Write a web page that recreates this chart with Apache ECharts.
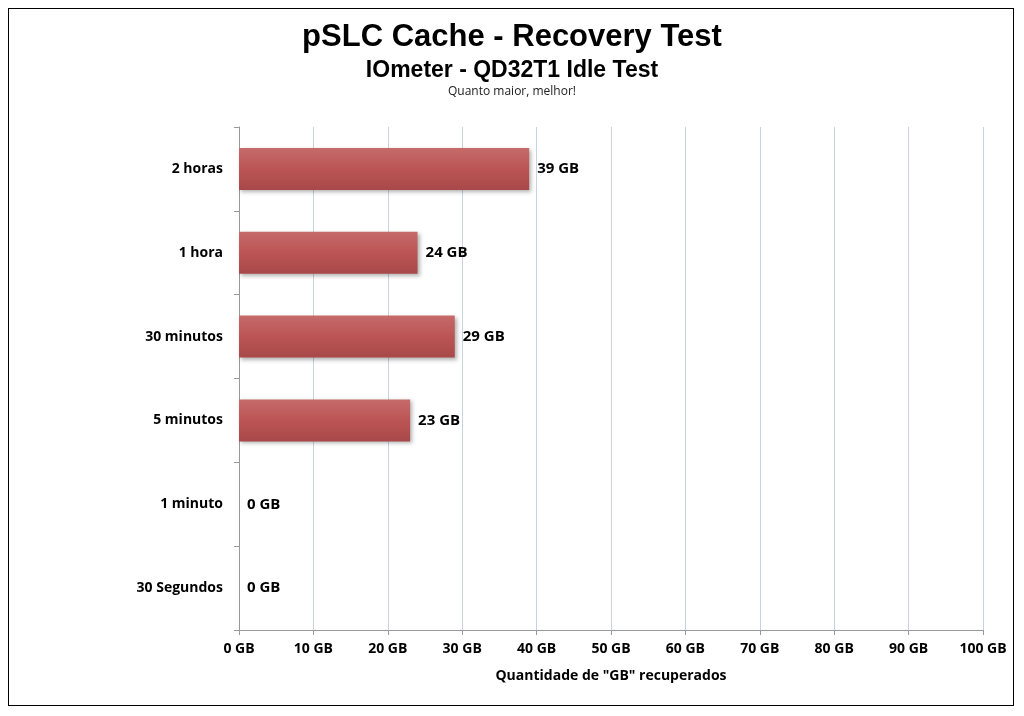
<!DOCTYPE html>
<html><head><meta charset="utf-8">
<script src="https://cdn.jsdelivr.net/npm/echarts@6/dist/echarts.min.js"></script>
<style>html,body{margin:0;padding:0;background:#fff}#c{width:1024px;height:716px}
#f{position:absolute;left:8px;top:8px;width:1006px;height:698px;border:1.5px solid #000;box-sizing:border-box;pointer-events:none}</style>
</head><body><div id="c"></div><div id="f"></div>
<script>
const categories = ['2 horas','1 hora','30 minutos','5 minutos','1 minuto','30 Segundos'];
const values = [39,24,29,23,0,0];
const xTicks = [0,10,20,30,40,50,60,70,80,90,100];
const ch = echarts.init(document.getElementById('c'));
ch.setOption({
  animation:false,
  title:[
    {text:'pSLC Cache - Recovery Test',left:'center',top:17,textStyle:{fontFamily:'Liberation Sans',fontSize:31,fontWeight:'bold',color:'#000'}},
    {text:'IOmeter - QD32T1 Idle Test',left:'center',top:54,textStyle:{fontFamily:'Liberation Sans',fontSize:23,fontWeight:'bold',color:'#000'}},
    {text:'Quanto maior, melhor!',left:'center',top:81,textStyle:{fontFamily:'Open Sans',fontSize:12,fontWeight:'normal',color:'#222'}}
  ],
  grid:{left:239,right:41,top:127,bottom:86},
  xAxis:{type:'value',min:0,max:100,interval:10,
    name:'Quantidade de "GB" recuperados',nameLocation:'middle',nameGap:39,
    nameTextStyle:{fontFamily:'Open Sans',fontSize:14,fontWeight:'bold',color:'#000'},
    axisLabel:{formatter:v=>v+' GB',fontFamily:'Open Sans',fontSize:14,fontWeight:'bold',color:'#000',margin:12},
    axisLine:{show:true,lineStyle:{color:'#999'}},axisTick:{show:true,length:5,lineStyle:{color:'#999'}},
    splitLine:{lineStyle:{color:'#c8d4e4'}}},
  yAxis:{type:'category',data:categories,inverse:true,
    axisLabel:{fontFamily:'Open Sans',fontSize:14,fontWeight:'bold',color:'#000',margin:16},
    axisLine:{lineStyle:{color:'#999'}},axisTick:{show:true,length:5,lineStyle:{color:'#999'}}},
  series:[{type:'bar',data:values,barWidth:42,
    itemStyle:{color:new echarts.graphic.LinearGradient(0,0,0,1,[{offset:0,color:'#c66a6a'},{offset:0.5,color:'#bb5555'},{offset:1,color:'#a84848'}]),
      shadowColor:'rgba(0,0,0,0.3)',shadowBlur:4,shadowOffsetX:2,shadowOffsetY:2},
    label:{show:true,position:'right',distance:8,formatter:p=>p.value+' GB',fontFamily:'Open Sans',fontSize:15,fontWeight:'bold',color:'#000'}}]
});
</script></body></html>
